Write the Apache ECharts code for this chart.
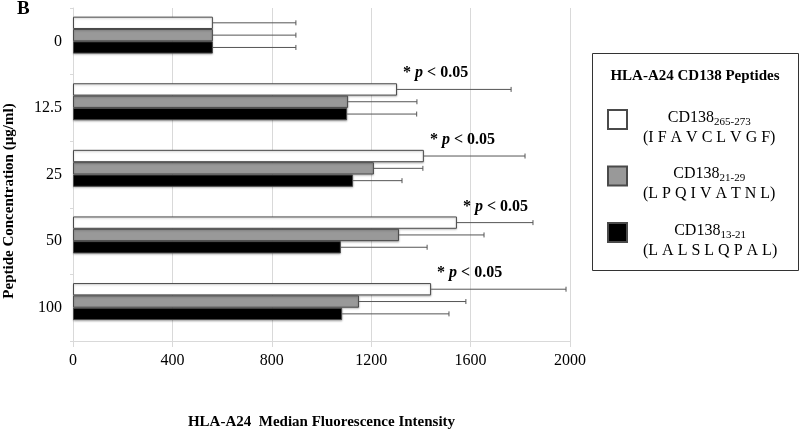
<!DOCTYPE html>
<html>
<head>
<meta charset="utf-8">
<script src="https://cdn.jsdelivr.net/npm/echarts@6/dist/echarts.min.js"></script>
<style>html,body{margin:0;padding:0;background:#fff}#c{width:800px;height:435px}</style>
</head>
<body>
<div id="c"></div>
<script>
// ---- data ----
const categories = ['0', '12.5', '25', '50', '100'];
const seriesNames = ['CD138 265-273', 'CD138 21-29', 'CD138 13-21'];
const seriesSub = ['265-273', '21-29', '13-21'];
const seriesSeq = ['(I F A V C L V G F)', '(L P Q I V A T N L)', '(L A L S L Q P A L)'];
const meanA = [563, 1304, 1412, 1545, 1441];
const meanB = [563, 1107, 1211, 1312, 1151];
const meanC = [563, 1103, 1127, 1078, 1083];
const errA = [334, 459, 407, 306, 543];
const errB = [334, 277, 197, 342, 430];
const errC = [334, 280, 197, 347, 430];
const sigP = [null, 0.05, 0.05, 0.05, 0.05];
const xTicks = [0, 400, 800, 1200, 1600, 2000];

const SERIF = '"Liberation Serif", "DejaVu Serif", serif';
const CAT_GAP = 0.26;
const NBARS = 4;

const means = [meanA, meanB, meanC];
const errs = [errA, errB, errC];
const fills = ['#ffffff', '#999999', '#000000'];

const errData = [];
means.forEach((m, s) => m.forEach((v, i) => errData.push([i, s, v, errs[s][i], sigP[i] == null || s !== 0 ? 0 : sigP[i]])));

const chart = echarts.init(document.getElementById('c'));

const barSeries = seriesNames.map((name, s) => ({
  name: name,
  type: 'bar',
  data: means[s],
  barGap: '0%',
  barCategoryGap: (CAT_GAP * 100) + '%',
  itemStyle: {
    color: fills[s],
    borderColor: '#4a4a4a',
    borderWidth: 1,
    shadowColor: 'rgba(0,0,0,0.25)',
    shadowBlur: 2,
    shadowOffsetY: 1
  },
  emphasis: { disabled: true }
}));

barSeries.push({
  name: 'spacer',
  type: 'bar',
  data: categories.map(() => 0),
  barGap: '0%',
  barCategoryGap: (CAT_GAP * 100) + '%',
  itemStyle: { color: 'transparent' },
  silent: true
});

const errSeries = {
  type: 'custom',
  name: 'errors',
  data: errData,
  encode: { x: [2, 3], y: 0 },
  clip: false,
  z: 5,
  silent: true,
  renderItem: function (params, api) {
    const cat = api.value(0), s = api.value(1), mean = api.value(2), err = api.value(3), p = api.value(4);
    const c = api.coord([mean, cat]);
    const e = api.coord([mean + err, cat]);
    const band = api.size([0, 1])[1];
    const bw = band * (1 - CAT_GAP) / NBARS;
    const top = c[1] - bw * NBARS / 2;
    const y = top + bw * (s + 0.5);
    const lineStyle = { stroke: '#555555', lineWidth: 1 };
    const children = [
      { type: 'line', shape: { x1: c[0], y1: y, x2: e[0], y2: y }, style: lineStyle },
      { type: 'line', shape: { x1: e[0], y1: y - 2.5, x2: e[0], y2: y + 2.5 }, style: lineStyle }
    ];
    if (p) {
      children.push({
        type: 'text',
        style: {
          x: c[0] + 6,
          y: top - 10,
          text: '{b|* }{i|p}{b| < ' + p.toFixed(2) + '}',
          verticalAlign: 'middle',
          fill: '#000',
          rich: {
            b: { fontFamily: SERIF, fontSize: 16, fontWeight: 'bold', fill: '#000' },
            i: { fontFamily: SERIF, fontSize: 16, fontWeight: 'bold', fontStyle: 'italic', fill: '#000' }
          }
        }
      });
    }
    return { type: 'group', children: children };
  }
};

const option = {
  animation: false,
  backgroundColor: '#ffffff',
  grid: { left: 73, right: 230, top: 8, bottom: 90, containLabel: false },
  xAxis: {
    type: 'value',
    min: xTicks[0],
    max: xTicks[xTicks.length - 1],
    interval: xTicks[1] - xTicks[0],
    name: 'HLA-A24  Median Fluorescence Intensity',
    nameLocation: 'middle',
    nameGap: 74,
    nameTextStyle: { fontFamily: SERIF, fontSize: 15, fontWeight: 'bold', color: '#000' },
    axisLine: { show: true, lineStyle: { color: '#d9d9d9' } },
    axisTick: { show: true, length: 6, lineStyle: { color: '#d9d9d9' } },
    splitLine: { show: true, lineStyle: { color: '#d9d9d9' } },
    axisLabel: { fontFamily: SERIF, fontSize: 16, color: '#000', margin: 12, formatter: function (v) { return String(v); } }
  },
  yAxis: {
    type: 'category',
    data: categories,
    inverse: true,
    axisLine: { show: true, lineStyle: { color: '#d9d9d9' } },
    axisTick: { show: true, length: 3, lineStyle: { color: '#d9d9d9' } },
    axisLabel: { fontFamily: SERIF, fontSize: 16, color: '#000', margin: 11 },
    splitLine: { show: false }
  },
  legend: {
    data: seriesNames,
    orient: 'vertical',
    left: 607,
    top: 99,
    padding: 0,
    itemWidth: 19,
    itemHeight: 19,
    itemGap: 10,
    icon: 'rect',
    selectedMode: false,
    formatter: function (name) {
      const k = seriesNames.indexOf(name);
      return '{e| }\n{m|CD138}{s|' + seriesSub[k] + '}\n{q|' + seriesSeq[k] + '}';
    },
    textStyle: {
      fontFamily: SERIF,
      fontSize: 16,
      color: '#000',
      padding: [0, 0, 0, 11],
      rich: {
        e: { fontSize: 1, lineHeight: 16 },
        m: { fontFamily: SERIF, fontSize: 16, lineHeight: 20, align: 'center', color: '#000' },
        s: { fontFamily: SERIF, fontSize: 11, lineHeight: 13, verticalAlign: 'bottom', align: 'center', color: '#000' },
        q: { fontFamily: SERIF, fontSize: 16, lineHeight: 20, align: 'center', color: '#000' }
      }
    }
  },
  graphic: [
    { type: 'rect', shape: { x: 592.5, y: 53.5, width: 206, height: 217, r: 0 }, style: { fill: 'none', stroke: '#333', lineWidth: 1 }, silent: true },
    { type: 'text', x: 695, y: 76, style: { text: 'HLA-A24 CD138 Peptides', fontFamily: SERIF, fontSize: 15, fontWeight: 'bold', fill: '#000', align: 'center', verticalAlign: 'middle' }, silent: true },
    { type: 'text', x: 17, y: 9, style: { text: 'B', fontFamily: SERIF, fontSize: 19, fontWeight: 'bold', fill: '#000', align: 'left', verticalAlign: 'middle' }, silent: true },
    { type: 'text', x: 9, y: 201, rotation: Math.PI / 2, style: { text: 'Peptide Concentration (µg/ml)', fontFamily: SERIF, fontSize: 15, fontWeight: 'bold', fill: '#000', align: 'center', verticalAlign: 'middle' }, silent: true }
  ],
  series: barSeries.concat([errSeries])
};

chart.setOption(option);
</script>
</body>
</html>
